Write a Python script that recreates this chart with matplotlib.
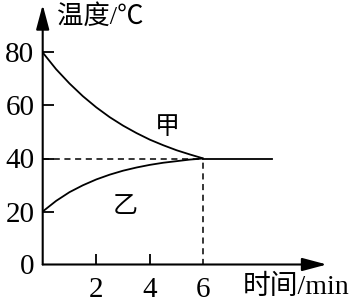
import matplotlib
matplotlib.use('Agg')
import matplotlib.pyplot as plt
from matplotlib.patches import FancyArrowPatch

# data
t = [0, 0.5, 1, 1.5, 2, 2.5, 3, 3.5, 4, 4.5, 5, 5.5, 6]
temp_jia = [80, 73.7, 68.3, 63.5, 59.3, 55.6, 52.4, 49.6, 47.1, 45.0, 43.1, 41.5, 40]
temp_yi = [20, 24.0, 27.3, 29.9, 32.1, 33.9, 35.4, 36.6, 37.6, 38.4, 39.0, 39.6, 40]
t_flat = [6, 8.55]
temp_flat = [40, 40]
yticks = [0, 20, 40, 60, 80]
xticks = [2, 4, 6]

serif = ['Liberation Serif', 'Noto Sans CJK SC']

fig = plt.figure(figsize=(3.56, 3.04), dpi=100)
ax = fig.add_axes([42.7/356, 39.5/304, 289.4/356, 262.35/304])
ax.set_xlim(0, 10.8)
ax.set_ylim(0, 99)
for s in ax.spines.values():
	s.set_visible(False)

lw = 1.3
ax.plot(t, temp_jia, color='k', lw=lw, solid_capstyle='butt')
ax.plot(t, temp_yi, color='k', lw=lw, solid_capstyle='butt')
ax.plot(t_flat, temp_flat, color='k', lw=lw)

# dashed guides
ax.plot([0, 6], [40, 40], color='k', lw=1.1, ls=(0, (4, 3)))
ax.plot([6, 6], [0, 40], color='k', lw=1.1, ls=(0, (4, 3)))

# axes with arrows
for start, end in [((0, 0), (10.6, 0)), ((0, 0), (0, 98))]:
	arr = FancyArrowPatch(start, end, arrowstyle='-|>,head_length=0.75,head_width=0.2',
		mutation_scale=20, color='k', lw=1.5, shrinkA=0, shrinkB=0, clip_on=False)
	ax.add_patch(arr)

ax.set_xticks(xticks)
ax.set_yticks(yticks)
ax.set_xticklabels([str(v) for v in xticks], family=serif, fontsize=21)
ax.set_yticklabels([str(v) for v in yticks], family=serif, fontsize=21)
ax.tick_params(axis='y', direction='in', length=8, width=1.3, pad=6)
ax.tick_params(axis='x', direction='in', length=8, width=1.3, pad=9)
ax.xaxis.get_major_ticks()[2].tick1line.set_visible(False)
ax.yaxis.get_major_ticks()[0].tick1line.set_visible(False)

ax.text(0.55, 93.4, '温度/℃', family=serif, fontsize=19, va='center', ha='left')
ax.text(7.45, -8.5, '时间/min', family=serif, fontsize=20, va='center', ha='left', clip_on=False)
ax.text(4.64, 51.5, '甲', family=serif, fontsize=18, va='center', ha='center')
ax.text(3.07, 21.7, '乙', family=serif, fontsize=18, va='center', ha='center')

fig.savefig('out.png', dpi=100)
